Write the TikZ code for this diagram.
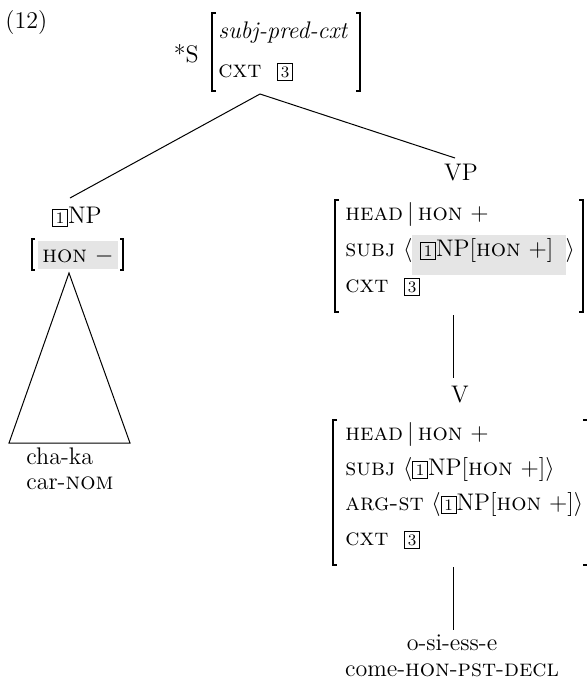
\documentclass[12pt,tikz,border=0pt]{standalone}
\usepackage{xcolor}
\definecolor{shadegray}{gray}{0.9}
\newcommand{\tagbox}[1]{{\fboxsep=1.4pt\fboxrule=0.4pt\fbox{\scriptsize #1}}}
\newcommand{\feat}[1]{\textsc{#1}}
\newcommand{\shaded}[1]{{\fboxsep=0pt\colorbox{shadegray}{\rule[-9.5pt]{0pt}{20pt}\hspace{4pt}#1\hspace{6pt}}}}

\begin{document}
\begin{tikzpicture}[x=0.5pt,y=-0.5pt]
  \tikzstyle{every node}=[inner sep=0pt,anchor=base west];
  \tikzstyle{bracket}=[line width=0.7pt];
  \tikzstyle{branch}=[line width=0.5pt];
  \useasboundingbox (0,0) rectangle (586,686);
  %\node (name) at (x,y) {text};
  \node (num) at (5,28) {(12)};
  % S
  \node[anchor=base east] (s) at (199,62) {*S};
  \draw[bracket] (216,13) -- (212,13) -- (212,91) -- (216,91);
  \draw[bracket] (356,13) -- (360,13) -- (360,91) -- (356,91);
  \node (stype) at (218,38) {\textit{subj-pred-cxt}};
  \node (scxt) at (218,77) {\feat{cxt}\hspace{4pt} \tagbox{3}};
  \coordinate (sfoot) at (260,94);
  % NP
  \node[anchor=base] (np) at (77,223) {\tagbox{1}NP};
  \coordinate (nptop) at (70,198);
  \fill[shadegray] (38,241) rectangle (118,269);
  \draw[bracket] (35,239) -- (32,239) -- (32,270) -- (35,270);
  \draw[bracket] (120,239) -- (123,239) -- (123,270) -- (120,270);
  \node[anchor=base] (nphon) at (78,262) {\feat{hon} $-$};
  \coordinate (npfoot) at (69,273);
  \coordinate (triL) at (9,443);
  \coordinate (triR) at (130,443);
  \node (w1) at (26,464) {cha-ka};
  \node (g1) at (26,489) {car-\feat{nom}};
  % VP
  \node[anchor=base] (vp) at (461,180) {VP};
  \coordinate (vptop) at (455,158);
  \draw[bracket] (339,200) -- (335,200) -- (335,312) -- (339,312);
  \draw[bracket] (579,200) -- (583,200) -- (583,312) -- (579,312);
  \node (vphead) at (345,220) {\feat{head}\,$|$\,\feat{hon} $+$};
  \node (vpsubj) at (345,256) {\feat{subj} $\langle$\shaded{\tagbox{1}NP$\big[$\feat{hon} $+$$\big]$}$\rangle$};
  \node (vpcxt) at (345,292) {\feat{cxt}\hspace{4pt} \tagbox{3}};
  \coordinate (vpfoot) at (453,315);
  % V
  \node[anchor=base] (v) at (460,402) {V};
  \coordinate (vtop) at (453,378);
  \draw[bracket] (337,420) -- (333,420) -- (333,565) -- (337,565);
  \draw[bracket] (583,420) -- (588,420) -- (588,565) -- (583,565);
  \node (vhead) at (345,440) {\feat{head}\,$|$\,\feat{hon} $+$};
  \node (vsubj) at (345,475) {\feat{subj} $\langle$\tagbox{1}NP$\big[$\feat{hon} $+$$\big]$$\rangle$};
  \node (vargst) at (345,510) {\feat{arg-st} $\langle$\tagbox{1}NP$\big[$\feat{hon} $+$$\big]$$\rangle$};
  \node (vcxt) at (345,545) {\feat{cxt}\hspace{4pt} \tagbox{3}};
  \coordinate (vfoot) at (453,567);
  \coordinate (wtop) at (453,630);
  \node[anchor=base] (w2) at (452,650) {o-si-ess-e};
  \node[anchor=base] (g2) at (452,676) {come-\feat{hon}-\feat{pst}-\feat{decl}};
  % branches
  \draw[branch] (sfoot)--(nptop);
  \draw[branch] (sfoot)--(vptop);
  \draw[branch] (npfoot)--(triL)--(triR)--cycle;
  \draw[branch] (vpfoot)--(vtop);
  \draw[branch] (vfoot)--(wtop);
\end{tikzpicture}
\end{document}
